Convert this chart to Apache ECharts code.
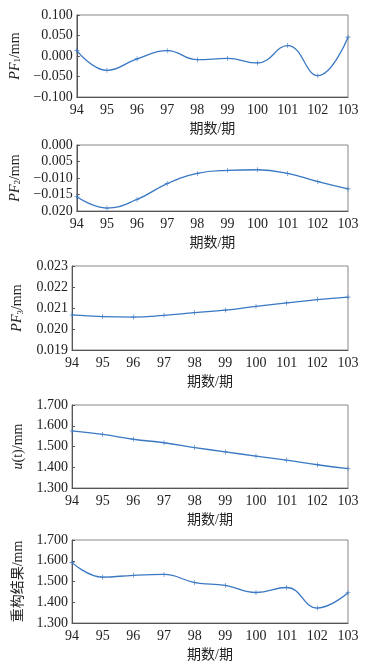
<!DOCTYPE html>
<html><head><meta charset="utf-8">
<style>html,body{margin:0;padding:0;background:#fff}#c{width:368px;height:666px}</style>
<script src="https://cdn.jsdelivr.net/npm/echarts@6/dist/echarts.min.js"></script>
</head><body><div id="c"></div>
<script>
const periods = ['94','95','96','97','98','99','100','101','102','103'];
const pf1 = [0.013,-0.035,-0.007,0.013,-0.009,-0.006,-0.017,0.0255,-0.048,0.046];
const pf2 = [-0.0157,-0.0191,-0.0165,-0.0117,-0.0086,-0.0077,-0.0075,-0.0086,-0.0111,-0.0133];
const pf3 = [0.02067,0.02059,0.02057,0.02065,0.02078,0.02090,0.02108,0.02124,0.02140,0.02152];
const ut = [1.575,1.558,1.535,1.518,1.495,1.474,1.454,1.434,1.412,1.393];
const recon = [1.591,1.521,1.530,1.534,1.495,1.481,1.447,1.471,1.372,1.446];
const pf2TickLabels = ['0.020','\u22120.015','\u22120.010','0.005','0.000'];
const xName = '期数/期';

const FONT = '"Liberation Serif","Noto Sans CJK SC",serif';
const color = '#3a78c4';
const tops = [15,145,266,405,540];
const heights = [82,66,84,83,83];
const datasets = [pf1,pf2,pf3,ut,recon];
const yRanges = [[-0.1,0.1,0.05],[-0.02,0,0.005],[0.019,0.023,0.001],[1.3,1.7,0.1],[1.3,1.7,0.1]];
const rich = {
  i:{fontFamily:FONT,fontStyle:'italic',fontSize:14,color:'#222'},
  s:{fontFamily:FONT,fontSize:9,color:'#222',verticalAlign:'bottom',padding:[6,0,0,0]},
  n:{fontFamily:FONT,fontSize:14,color:'#222'}
};
const yNames = ['{i|PF}{s|1}{n|/mm}','{i|PF}{s|2}{n|/mm}','{i|PF}{s|3}{n|/mm}','{i|u}{n|(t)/mm}','{n|重构结果/mm}'];
function fmt(v){ const s=Math.abs(v).toFixed(3); return (v< -1e-9?'\u2212':'')+s; }

const grid=[],xAxis=[],yAxis=[],series=[];
for(let k=0;k<5;k++){
  grid.push({left:72,right:20,top:tops[k],height:heights[k],show:true,borderColor:'#888',borderWidth:1});
  xAxis.push({type:'category',gridIndex:k,data:periods,boundaryGap:false,
    axisLine:{onZero:false,lineStyle:{color:'#555'}},axisTick:{show:false},
    axisLabel:{fontFamily:FONT,fontSize:14,color:'#222',margin:6},
    name:xName,nameLocation:'middle',nameGap:25,
    nameTextStyle:{fontFamily:FONT,fontSize:14,color:'#222'}});
  const r=yRanges[k];
  yAxis.push({type:'value',gridIndex:k,min:r[0],max:r[1],interval:r[2],
    axisLine:{show:true,onZero:false,lineStyle:{color:'#555'}},
    axisTick:{show:true,inside:true,length:3,lineStyle:{color:'#555'}},
    splitLine:{show:false},
    axisLabel:{fontFamily:FONT,fontSize:14,color:'#222',margin:4,
      formatter: k===1 ? (v,i)=>pf2TickLabels[i] : fmt},
    name:yNames[k],nameLocation:'middle',nameGap:47,nameRotate:90,
    nameTextStyle:{rich:rich}});
  series.push({type:'line',xAxisIndex:k,yAxisIndex:k,data:datasets[k],smooth:0.45,
    symbol:'path://M-0.6,-5H0.6V5H-0.6Z M-5,-0.6H5V0.6H-5Z',symbolSize:5,
    lineStyle:{color:color,width:1.3},itemStyle:{color:color}});
}
const chart=echarts.init(document.getElementById('c'),null,{renderer:'canvas'});
chart.setOption({backgroundColor:'#fff',animation:false,grid,xAxis,yAxis,series});
</script></body></html>
